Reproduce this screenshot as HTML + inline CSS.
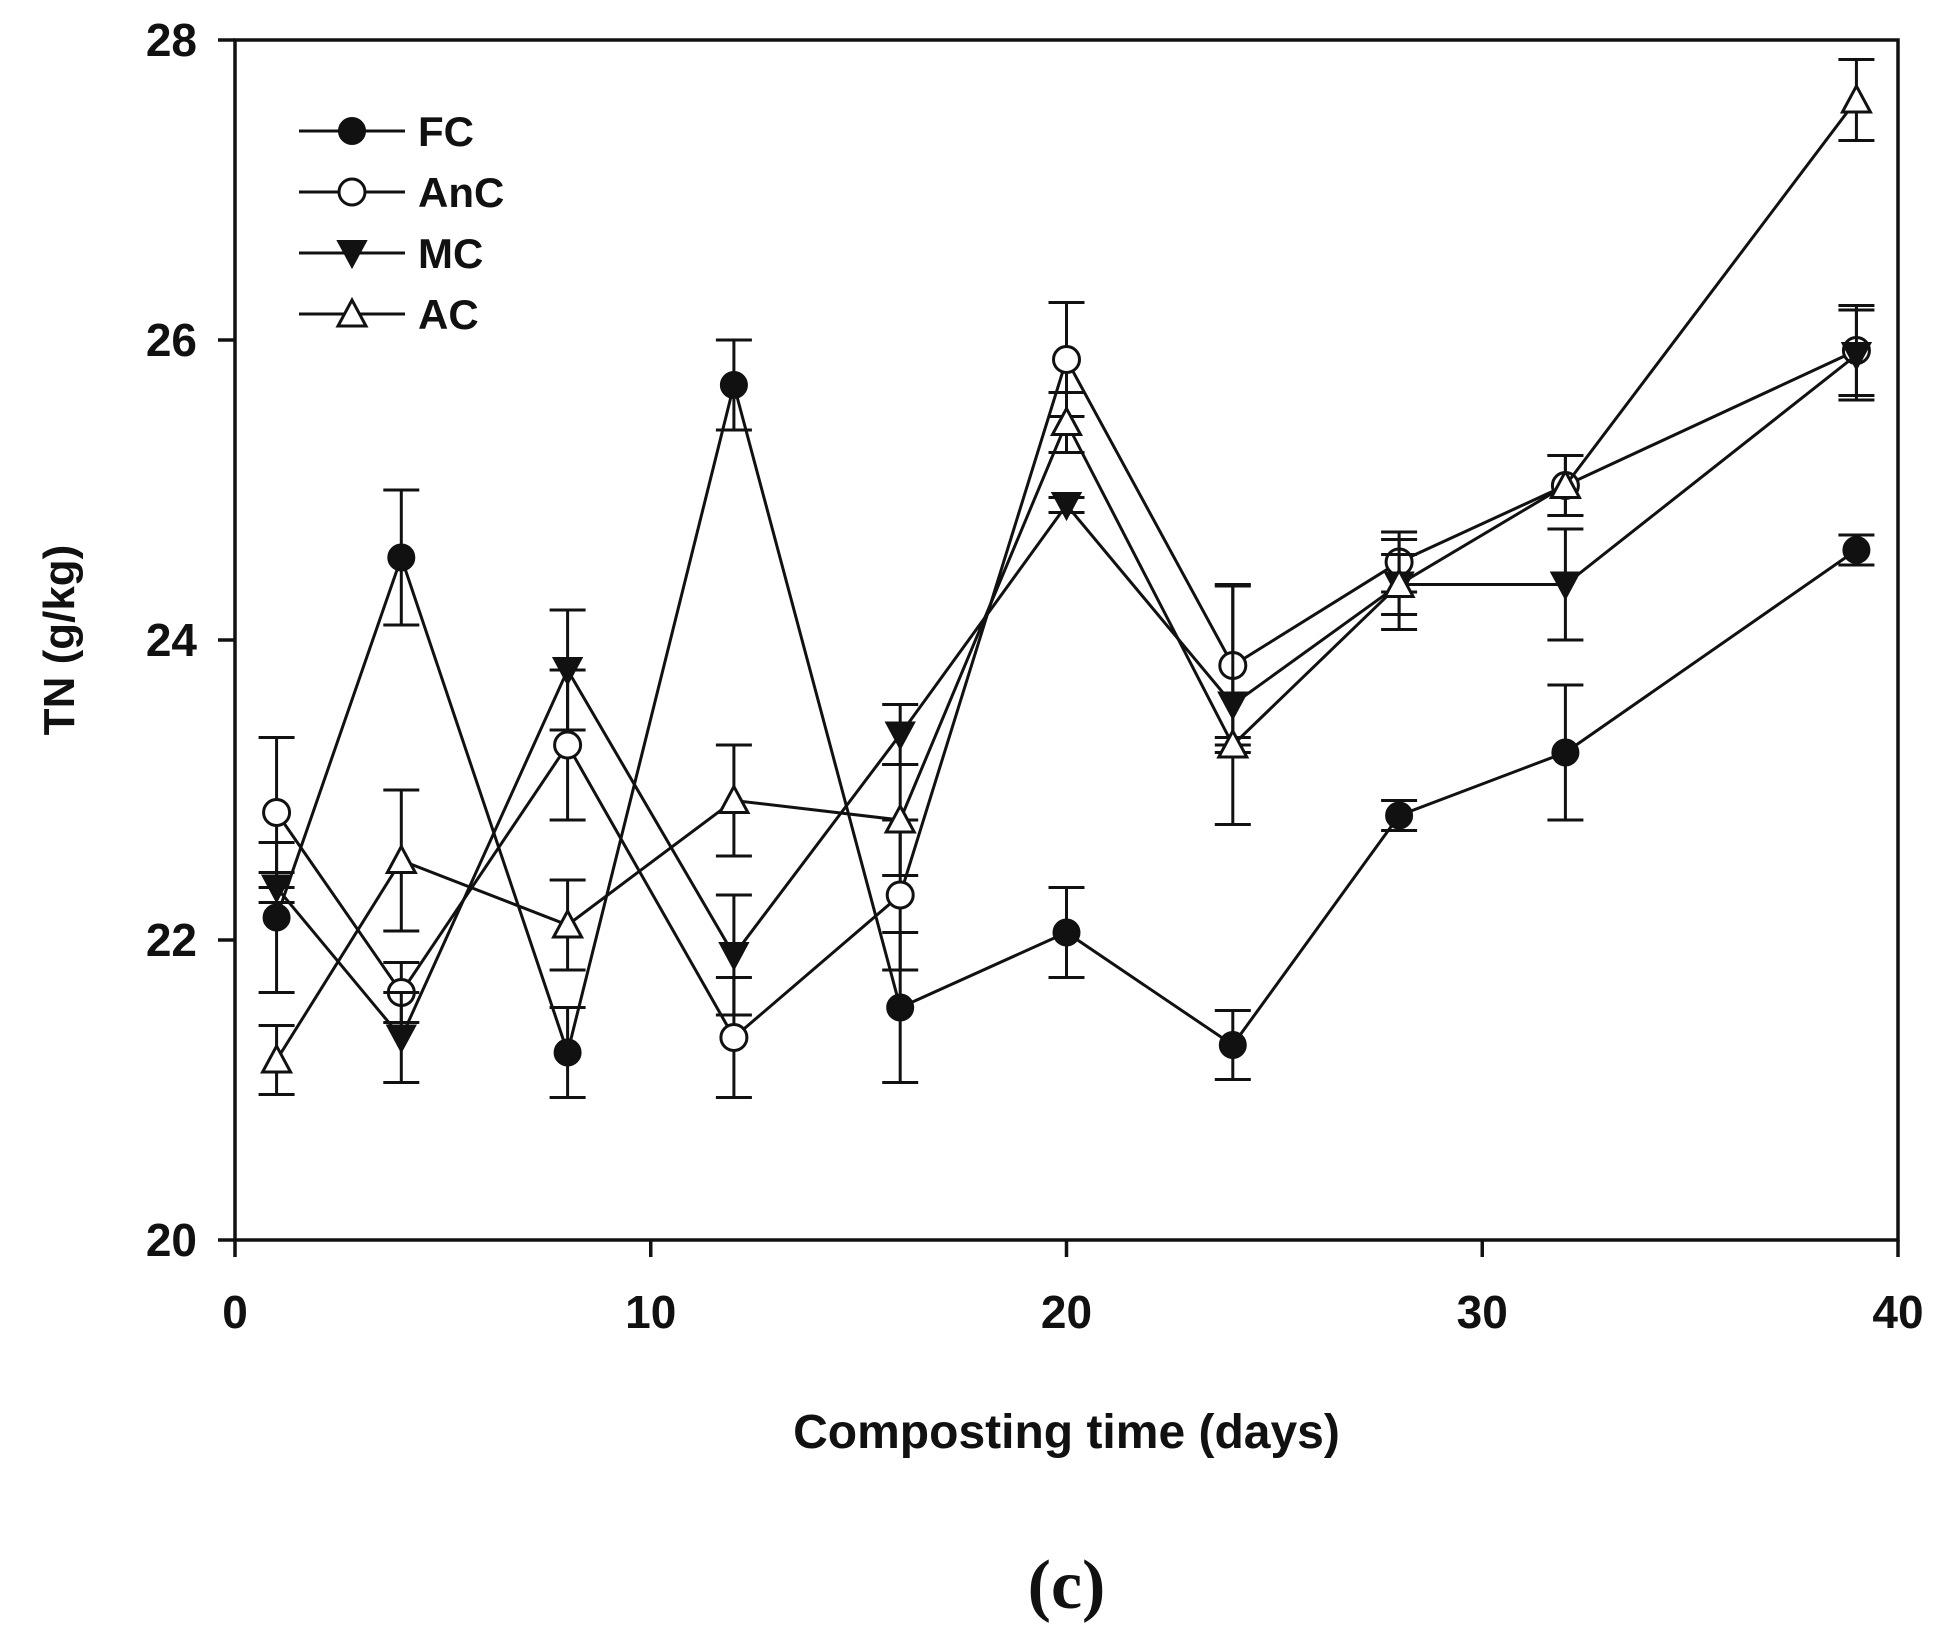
<!DOCTYPE html>
<html><head><meta charset="utf-8"><style>
body{margin:0;background:#fff;}
svg text{font-family:"Liberation Sans",Arial,sans-serif;font-weight:bold;fill:#111;}
</style></head><body>
<svg id="chart" width="1949" height="1625" viewBox="0 0 1949 1625" xmlns="http://www.w3.org/2000/svg">
<g id="plot"></g>
</svg>
<script>
const days=[1,4,8,12,16,20,24,28,32,39];
const fcVals=[22.15,24.55,21.25,25.7,21.55,22.05,21.3,22.83,23.25,24.6];
const fcErr=[0.5,0.45,0.3,0.3,0.5,0.3,0.23,0.1,0.45,0.1];
const ancVals=[22.85,21.65,23.3,21.35,22.3,25.87,23.83,24.52,25.03,25.93];
const ancErr=[0.5,0.2,0.5,0.4,0.5,0.38,0.53,0.2,0.2,0.3];
const mcVals=[22.35,21.35,23.8,21.9,23.37,24.9,23.57,24.37,24.37,25.9];
const mcErr=[0.1,0.3,0.4,0.4,0.2,0.05,0.8,0.3,0.37,0.3];
const acVals=[21.2,22.53,22.1,22.93,22.8,25.45,23.3,24.37,25.03,27.6];
const acErr=[0.23,0.47,0.3,0.37,0.37,0.2,0.05,0.2,0.2,0.27];
const xTicks=[0,10,20,30,40];
const yTicks=[20,22,24,26,28];
const seriesNames=["FC","AnC","MC","AC"];

const X0=235,X1=1898,Y0=1240,Y1=40;
const xs=v=>X0+(v-0)/(40-0)*(X1-X0);
const ys=v=>Y0-(v-20)/(28-20)*(Y0-Y1);
const NS="http://www.w3.org/2000/svg";
const g=document.getElementById('plot');
function mk(t,a,parent){const e=document.createElementNS(NS,t);for(const k in a)e.setAttribute(k,a[k]);(parent||g).appendChild(e);return e;}

let fr=mk('rect',{x:X0,y:Y1,width:X1-X0,height:Y0-Y1,fill:'none',stroke:'#111','stroke-width':3.5});


xTicks.forEach(v=>{
  let l=mk('line',{x1:xs(v),x2:xs(v),y1:Y0,y2:Y0+17,stroke:'#111','stroke-width':3.5});
  
  
  let t=mk('text',{x:xs(v),y:Y0+88,'text-anchor':'middle','font-size':46});
  t.textContent=v;
  
  
});
yTicks.forEach(v=>{
  let l=mk('line',{x1:X0-17,x2:X0,y1:ys(v),y2:ys(v),stroke:'#111','stroke-width':3.5});
  
  
  let t=mk('text',{x:X0-38,y:ys(v)+16,'text-anchor':'end','font-size':46});
  t.textContent=v;
  
  
});
let xt=mk('text',{x:(X0+X1)/2,y:1448,'text-anchor':'middle','font-size':48});
xt.textContent='Composting time (days)';


let yt=mk('text',{x:0,y:0,'text-anchor':'middle','font-size':44,transform:`translate(74,${(Y0+Y1)/2}) rotate(-90)`});
yt.textContent='TN (g/kg)';


let cap=mk('text',{x:(X0+X1)/2,y:1608,'text-anchor':'middle','font-size':70,style:'font-family:"Liberation Serif",serif;font-weight:bold'});
cap.textContent='(c)';



function marker(kind,cx,cy,parent){
  const r=13;
  if(kind==='fc') return mk('circle',{cx,cy,r,fill:'#111',stroke:'#111','stroke-width':2},parent);
  if(kind==='anc') return mk('circle',{cx,cy,r,fill:'#fff',stroke:'#111','stroke-width':3},parent);
  if(kind==='mc') return mk('polygon',{points:`${cx-14},${cy-12} ${cx+14},${cy-12} ${cx},${cy+14}`,fill:'#111',stroke:'#111','stroke-width':2},parent);
  return mk('polygon',{points:`${cx-14},${cy+12} ${cx+14},${cy+12} ${cx},${cy-14}`,fill:'#fff',stroke:'#111','stroke-width':3},parent);
}
const all=[['fc',fcVals,fcErr],['anc',ancVals,ancErr],['mc',mcVals,mcErr],['ac',acVals,acErr]];
all.forEach(([k,vals,err])=>{
  const sg=mk('g',{});
  
  
  let p=mk('polyline',{points:days.map((d,i)=>xs(d)+','+ys(vals[i])).join(' '),fill:'none',stroke:'#111','stroke-width':3},sg);
  
  
  days.forEach((d,i)=>{
    const x=xs(d),a=ys(vals[i]+err[i]),b=ys(vals[i]-err[i]);
    let e=mk('path',{d:`M${x},${a}V${b}M${x-18},${a}H${x+18}M${x-18},${b}H${x+18}`,stroke:'#111','stroke-width':3,fill:'none'},sg);
    
    
  });
  days.forEach((d,i)=>{
    let m=marker(k,xs(d),ys(vals[i]),sg);
    
    
  });
});
const lg=mk('g',{});


const kinds=['fc','anc','mc','ac'];
seriesNames.forEach((n,i)=>{
  const y=131+i*61;
  let l=mk('line',{x1:299,x2:405,y1:y,y2:y,stroke:'#111','stroke-width':3},lg);
  
  
  let m=marker(kinds[i],352,y,lg);
  
  
  let t=mk('text',{x:418,y:y+15,'font-size':42},lg);
  t.textContent=n;
  
  
});
</script>
</body></html>
